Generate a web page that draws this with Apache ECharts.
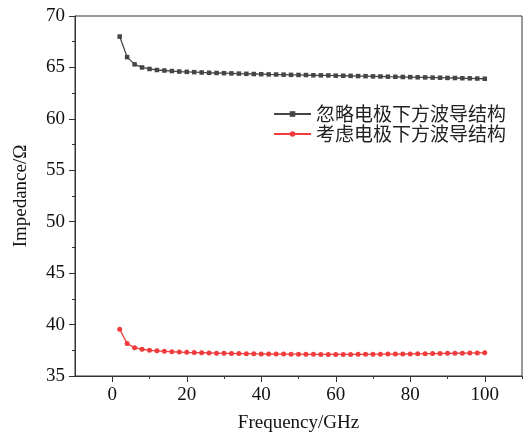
<!DOCTYPE html>
<html>
<head>
<meta charset="utf-8">
<script src="https://cdn.jsdelivr.net/npm/echarts@6/dist/echarts.min.js"></script>
<style>
  html, body { margin: 0; width: 100%; height: 100%; background: #fff; }
  #main { width: 531px; height: 438px; }
</style>
</head>
<body>
<div id="main"></div>
<script>
// frequency points, GHz
var freq = [];
for (var f = 2; f <= 100; f += 2) freq.push(f);

var ignoreName = '忽略电极下方波导结构';
var considerName = '考虑电极下方波导结构';

// impedance, ignoring the waveguide under the electrode
var ignoreZ = [68.0, 66.0, 65.3, 65.0, 64.85, 64.75, 64.7, 64.65, 64.6, 64.57,
  64.54, 64.51, 64.48, 64.46, 64.44, 64.42, 64.4, 64.38, 64.36, 64.34,
  64.32, 64.31, 64.3, 64.28, 64.27, 64.26, 64.24, 64.23, 64.22, 64.2,
  64.19, 64.18, 64.16, 64.15, 64.13, 64.12, 64.1, 64.09, 64.07, 64.06,
  64.04, 64.03, 64.01, 64.0, 63.98, 63.97, 63.95, 63.94, 63.92, 63.9];

// impedance, considering the waveguide under the electrode
var considerZ = [39.55, 38.15, 37.75, 37.6, 37.5, 37.45, 37.4, 37.36, 37.33, 37.3,
  37.28, 37.26, 37.24, 37.22, 37.2, 37.19, 37.18, 37.17, 37.16, 37.15,
  37.14, 37.13, 37.13, 37.12, 37.12, 37.11, 37.11, 37.1, 37.1, 37.1,
  37.1, 37.1, 37.11, 37.11, 37.12, 37.12, 37.13, 37.13, 37.14, 37.15,
  37.16, 37.17, 37.18, 37.19, 37.2, 37.21, 37.22, 37.23, 37.24, 37.25];

var xMajor = [0, 20, 40, 60, 80, 100];
var xMinor = [10, 30, 50, 70, 90, 110];

function pairs(xs, ys) {
  return xs.map(function (x, i) { return [x, ys[i]]; });
}

var serif = '"Liberation Serif", "Times New Roman", serif';
var axisColor = '#333';

var chart = echarts.init(document.getElementById('main'));
chart.setOption({
  animation: false,
  grid: {
    left: 75, right: 9, top: 16, bottom: 62,
    show: true, borderColor: axisColor, borderWidth: 1
  },
  legend: {
    orient: 'vertical',
    left: 268, top: 99,
    itemWidth: 37, itemHeight: 7, itemGap: 0,
    textStyle: { fontFamily: '"Noto Sans CJK SC"', fontSize: 19, lineHeight: 20, color: '#222' },
    data: [ignoreName, considerName]
  },
  xAxis: [{
    type: 'value', min: -10, max: 110,
    name: 'Frequency/GHz', nameLocation: 'middle', nameGap: 38,
    nameTextStyle: { fontFamily: serif, fontSize: 19, color: '#111' },
    axisLine: { show: true, onZero: false, lineStyle: { color: axisColor } },
    axisTick: { show: true, length: 6, customValues: xMajor, lineStyle: { color: axisColor } },
    axisLabel: { customValues: xMajor, fontFamily: serif, fontSize: 19, color: '#111', margin: 10 },
    splitLine: { show: false }
  }, {
    type: 'value', min: -10, max: 110, position: 'bottom', gridIndex: 0,
    axisLine: { show: false, onZero: false },
    axisTick: { show: true, length: 3, customValues: xMinor, lineStyle: { color: axisColor } },
    axisLabel: { show: false },
    splitLine: { show: false }
  }],
  yAxis: {
    type: 'value', min: 35, max: 70, interval: 5,
    name: 'Impedance/Ω', nameLocation: 'middle', nameGap: 44,
    nameTextStyle: { fontFamily: serif, fontSize: 19, color: '#111' },
    axisLine: { show: true, onZero: false, lineStyle: { color: axisColor } },
    axisTick: { show: true, length: 6, lineStyle: { color: axisColor } },
    minorTick: { show: true, splitNumber: 2, length: 3, lineStyle: { color: axisColor } },
    axisLabel: { fontFamily: serif, fontSize: 19, color: '#111', margin: 10 },
    splitLine: { show: false }
  },
  series: [{
    name: ignoreName, type: 'line',
    data: pairs(freq, ignoreZ),
    symbol: 'rect', symbolSize: 4.5,
    itemStyle: { color: '#454545' },
    lineStyle: { color: '#454545', width: 1.3 }
  }, {
    name: considerName, type: 'line',
    data: pairs(freq, considerZ),
    symbol: 'circle', symbolSize: 5,
    itemStyle: { color: '#f03c3c' },
    lineStyle: { color: '#f03c3c', width: 1.3 }
  }]
});
</script>
</body>
</html>
